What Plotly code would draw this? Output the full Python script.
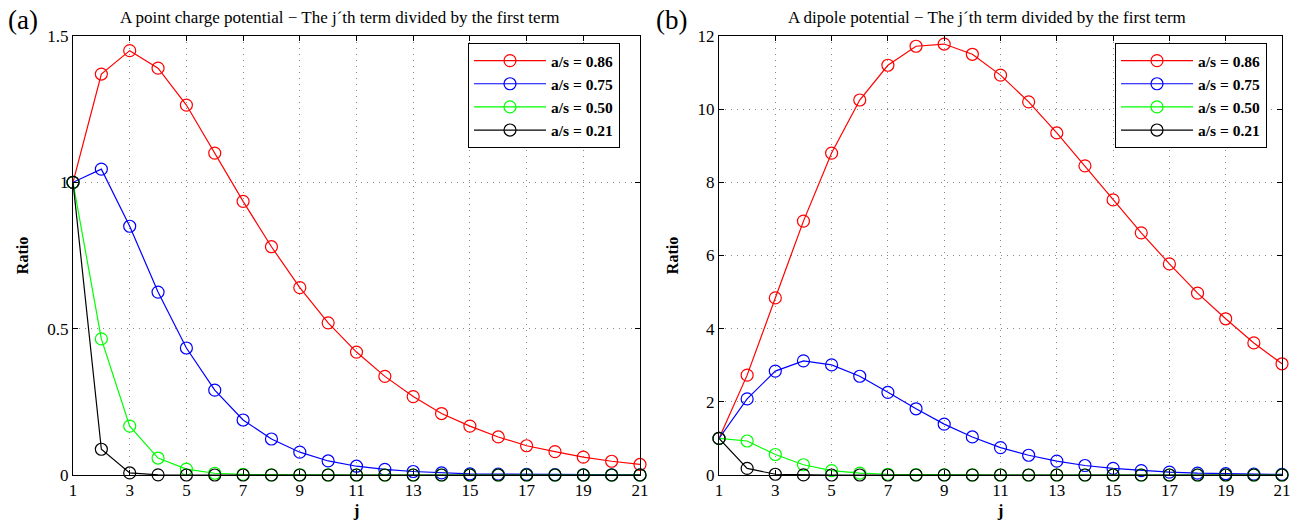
import plotly.graph_objects as go

j = list(range(1, 22))
labels = ["a/s = 0.86", "a/s = 0.75", "a/s = 0.50", "a/s = 0.21"]
colors = ["#ff0000", "#0000ff", "#00ff00", "#000000"]

# Panel (a): point charge potential
pc_086 = [1.0, 1.37, 1.45, 1.39, 1.264, 1.10, 0.935, 0.78, 0.64, 0.52, 0.42, 0.337, 0.268,
          0.21, 0.167, 0.13, 0.10, 0.08, 0.061, 0.047, 0.036]
pc_075 = [1.0, 1.045, 0.85, 0.625, 0.434, 0.29, 0.188, 0.123, 0.078, 0.048, 0.030, 0.019,
          0.012, 0.007, 0.004, 0.003, 0.002, 0.001, 0.0006, 0.0004, 0.0002]
pc_050 = [1.0, 0.465, 0.167, 0.058, 0.02, 0.006, 0.002, 0.0006, 0.0002, 0.0001, 0, 0, 0,
          0, 0, 0, 0, 0, 0, 0, 0]
pc_021 = [1.0, 0.088, 0.007, 0.0005, 0, 0, 0, 0, 0, 0, 0, 0, 0, 0, 0, 0, 0, 0, 0, 0, 0]

# Panel (b): dipole potential
dp_086 = [1.0, 2.73, 4.84, 6.94, 8.8, 10.25, 11.2, 11.72, 11.78, 11.5, 10.93, 10.2, 9.35,
          8.45, 7.52, 6.62, 5.77, 4.97, 4.27, 3.61, 3.04]
dp_075 = [1.0, 2.08, 2.84, 3.12, 3.01, 2.70, 2.26, 1.81, 1.39, 1.04, 0.75, 0.54, 0.38, 0.26,
          0.18, 0.12, 0.08, 0.05, 0.035, 0.022, 0.015]
dp_050 = [1.0, 0.93, 0.56, 0.28, 0.12, 0.05, 0.02, 0.008, 0.003, 0.001, 0.0004, 0, 0, 0, 0,
          0, 0, 0, 0, 0, 0]
dp_021 = [1.0, 0.18, 0.02, 0.003, 0.0003, 0, 0, 0, 0, 0, 0, 0, 0, 0, 0, 0, 0, 0, 0, 0, 0]

x_ticks = list(range(1, 22, 2))
ya_ticks = [0, 0.5, 1, 1.5]
ya_ticktext = ["0", "0.5", "1", "1.5"]
yb_ticks = [0, 2, 4, 6, 8, 10, 12]

title_a = "A point charge potential − The j´th term divided by the first term"
title_b = "A dipole potential − The j´th term divided by the first term"

SERIF = "Liberation Serif"
W, H = 1303, 520

fig = go.Figure()
series_a = [pc_086, pc_075, pc_050, pc_021]
series_b = [dp_086, dp_075, dp_050, dp_021]
for ser, lab, col in zip(series_a, labels, colors):
    fig.add_trace(go.Scatter(x=j, y=ser, name=lab, mode="lines+markers",
                             line=dict(color=col, width=1.2),
                             marker=dict(symbol="circle-open", size=12, color=col,
                                         line=dict(width=1.2, color=col)),
                             cliponaxis=False, xaxis="x", yaxis="y", legend="legend"))
for ser, lab, col in zip(series_b, labels, colors):
    fig.add_trace(go.Scatter(x=j, y=ser, name=lab, mode="lines+markers",
                             line=dict(color=col, width=1.2),
                             marker=dict(symbol="circle-open", size=12, color=col,
                                         line=dict(width=1.2, color=col)),
                             cliponaxis=False, xaxis="x2", yaxis="y2", legend="legend2"))

ax_common = dict(showline=True, linecolor="black", linewidth=1, mirror="allticks",
                 ticks="inside", ticklen=5, tickcolor="black", automargin=False,
                 showgrid=True, gridcolor="#888888", griddash="1px,5px", gridwidth=1,
                 zeroline=False, tickfont=dict(family=SERIF, size=17, color="black"))

xtitle = dict(text="j", font=dict(family=SERIF, size=17, color="black", weight="bold"), standoff=8)
ytitle = dict(text="Ratio", font=dict(family=SERIF, size=16, color="black", weight="bold"), standoff=14)

yd = [(520 - 475) / H, (520 - 36) / H]
legend_common = dict(xanchor="right", y=(520 - 43) / H, yanchor="top",
                     bordercolor="black", borderwidth=1, bgcolor="white",
                     font=dict(family=SERIF, size=15.5, color="black", weight="bold"),
                     tracegroupgap=0, itemwidth=72)
fig.update_layout(
    width=W, height=H, margin=dict(l=0, r=0, t=0, b=0),
    paper_bgcolor="white", plot_bgcolor="white", showlegend=True,
    xaxis=dict(domain=[73 / W, 640 / W], range=[1, 21], tickvals=x_ticks, anchor="y",
               title=xtitle, **ax_common),
    yaxis=dict(domain=yd, range=[0, 1.5], tickvals=ya_ticks, ticktext=ya_ticktext, anchor="x",
               title=ytitle, **ax_common),
    xaxis2=dict(domain=[719 / W, 1282 / W], range=[1, 21], tickvals=x_ticks, anchor="y2",
                title=xtitle, **ax_common),
    yaxis2=dict(domain=yd, range=[0, 12], tickvals=yb_ticks, anchor="x2",
                title=ytitle, **ax_common),
    legend=dict(x=620 / W, **legend_common),
    legend2=dict(x=1267 / W, **legend_common),
    annotations=[
        dict(text=title_a, x=340 / W, y=(520 - 18) / H, xref="paper", yref="paper",
             xanchor="center", yanchor="middle",
             showarrow=False, font=dict(family=SERIF, size=17, color="black")),
        dict(text=title_b, x=987 / W, y=(520 - 18) / H, xref="paper", yref="paper",
             xanchor="center", yanchor="middle",
             showarrow=False, font=dict(family=SERIF, size=17, color="black")),
        dict(text="(a)", x=6 / W, y=(520 - 20) / H, xref="paper", yref="paper",
             xanchor="left", yanchor="middle",
             showarrow=False, font=dict(family=SERIF, size=27, color="black")),
        dict(text="(b)", x=654 / W, y=(520 - 20) / H, xref="paper", yref="paper",
             xanchor="left", yanchor="middle",
             showarrow=False, font=dict(family=SERIF, size=27, color="black")),
    ],
)

fig.write_html("out.html")
